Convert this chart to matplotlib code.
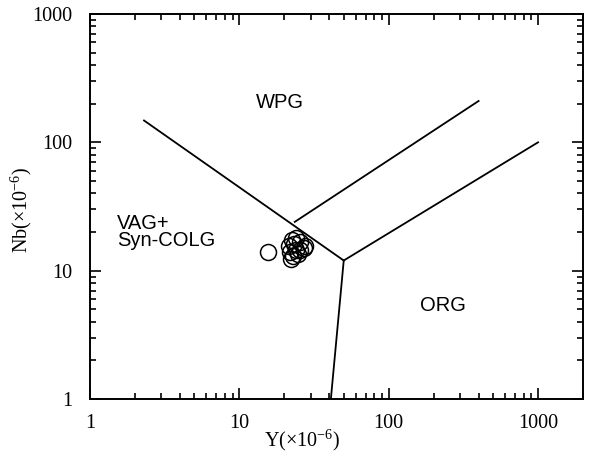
import matplotlib
matplotlib.use("Agg")
import matplotlib.pyplot as plt
from matplotlib.ticker import LogLocator, NullFormatter, FixedLocator

plt.rcParams["mathtext.fontset"] = "custom"
plt.rcParams["mathtext.rm"] = "Liberation Serif"
plt.rcParams["mathtext.it"] = "Liberation Serif:italic"

# Sample data (Y, Nb in ppm)
y_vals = [15.6, 21.5, 22.5, 24.0, 25.5, 27.5, 21.9, 22.9, 22.2, 24.0, 24.7, 23.2, 25.5, 27.0]
nb_vals = [14.1, 15.6, 17.3, 18.0, 16.7, 15.6, 14.0, 13.0, 12.3, 14.5, 13.5, 16.1, 14.5, 15.0]

# Boundary lines (Y, Nb)
line_vag_wpg = ([2.3, 50], [148, 12])
line_wpg_org = ([23.5, 400], [24, 210])
line_org_upper = ([50, 1000], [12, 100])
line_vag_org = ([50, 41], [12, 1])

x_ticks = [1, 10, 100, 1000]
y_ticks = [1, 10, 100, 1000]
tick_labels = ["1", "10", "100", "1000"]

fig = plt.figure(figsize=(5.89, 4.61), dpi=100)
ax = fig.add_axes([90/589, 1-399/461, (583-90)/589, (399-14)/461])
ax.set_xscale("log")
ax.set_yscale("log")
ax.set_xlim(1, 2000)
ax.set_ylim(1, 1000)

for xs, ys in [line_vag_wpg, line_wpg_org, line_org_upper, line_vag_org]:
    ax.plot(xs, ys, color="black", lw=1.3)

ax.plot(y_vals, nb_vals, linestyle="none", marker="o", markersize=11.5,
        markerfacecolor="none", markeredgecolor="black", markeredgewidth=1.1)

serif = "Liberation Serif"
sans = "Liberation Sans"

ax.xaxis.set_major_locator(FixedLocator(x_ticks))
ax.yaxis.set_major_locator(FixedLocator(y_ticks))
ax.set_xticklabels(tick_labels, fontfamily=serif, fontsize=14.5)
ax.set_yticklabels(tick_labels, fontfamily=serif, fontsize=14.5)
ax.xaxis.set_minor_locator(LogLocator(base=10, subs=range(2, 10)))
ax.yaxis.set_minor_locator(LogLocator(base=10, subs=range(2, 10)))
ax.xaxis.set_minor_formatter(NullFormatter())
ax.yaxis.set_minor_formatter(NullFormatter())
ax.tick_params(which="both", direction="in", top=True, right=True, width=1.2)
ax.tick_params(which="major", length=8)
ax.tick_params(axis="y", which="major", pad=13)
ax.tick_params(axis="x", which="major", pad=11)
ax.tick_params(which="minor", length=4)
for s in ax.spines.values():
    s.set_linewidth(1.4)

ax.set_xlabel("Y(×10$^{-6}$)", fontfamily=serif, fontsize=14.5)
ax.set_ylabel("Nb(×10$^{-6}$)", fontfamily=serif, fontsize=14.5)
ax.xaxis.set_label_coords((302 - 90) / 493, -(428 - 399) / 385)
ax.yaxis.set_label_coords(-(90 - 34) / 493, (399 - 210) / 385)

ax.text(18.7, 203, "WPG", fontfamily=sans, fontsize=14.5, ha="center", va="center")
ax.text(1.52, 20, "VAG+\nSyn-COLG", fontfamily=sans, fontsize=14.5, ha="left",
        va="center", linespacing=0.85)
ax.text(231, 5.4, "ORG", fontfamily=sans, fontsize=14.5, ha="center", va="center")

fig.savefig("out.png", dpi=100)
